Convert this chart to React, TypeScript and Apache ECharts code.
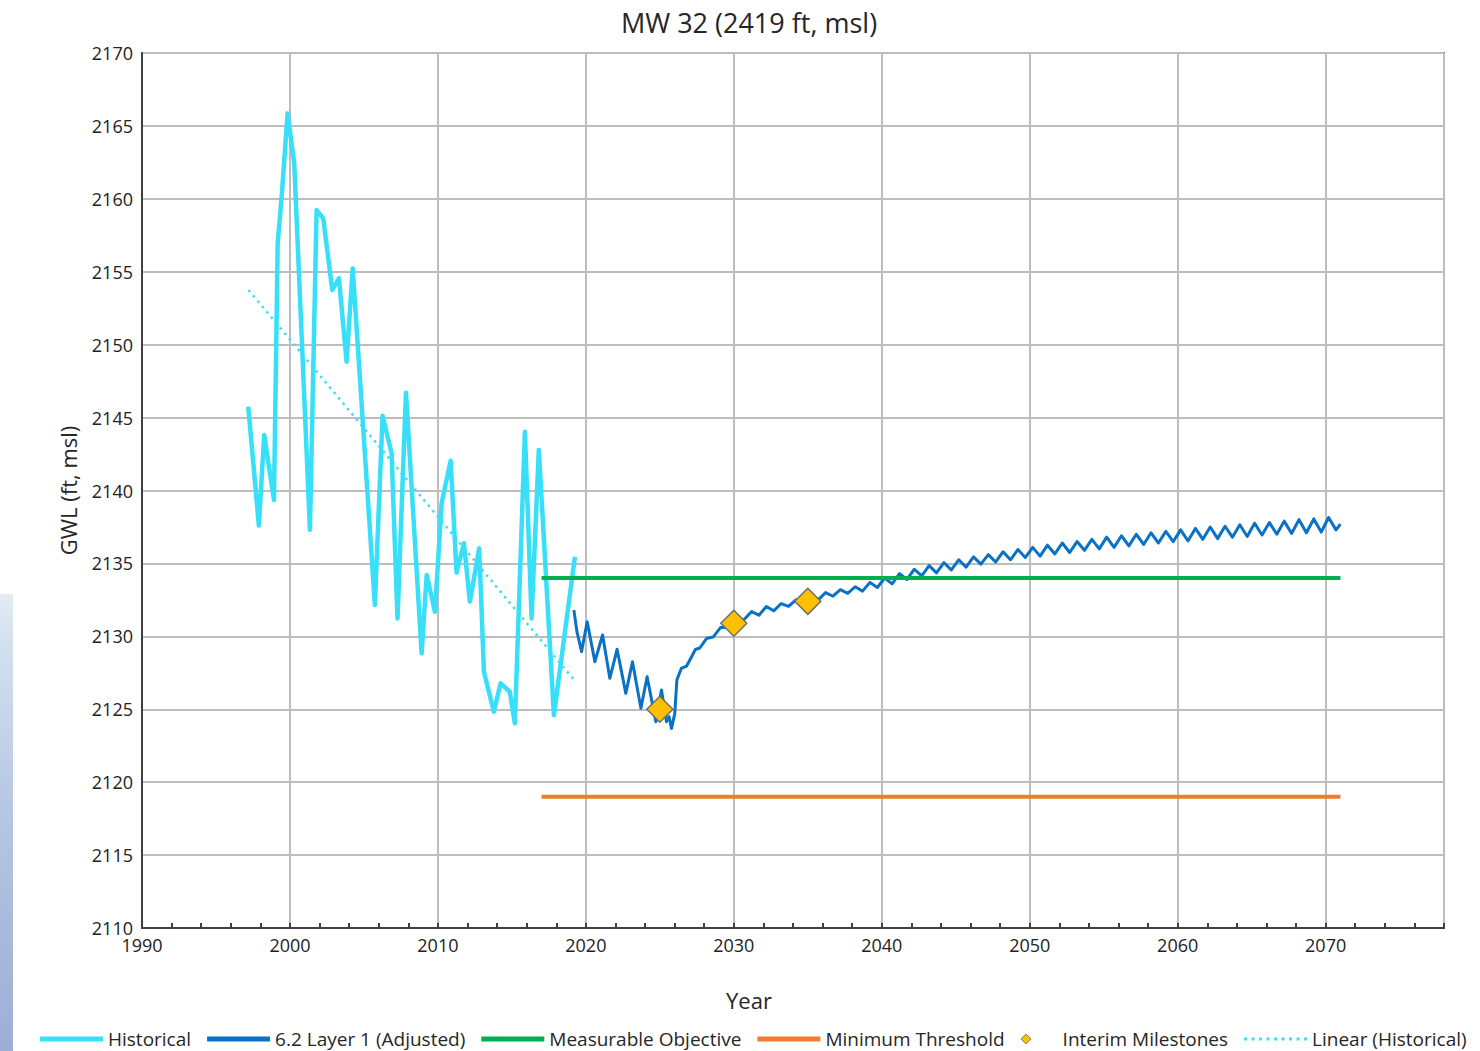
import React, { useEffect, useRef } from 'react';
import * as echarts from 'echarts';

const FONT = '"Open Sans", "Noto Sans", sans-serif';
const CYAN = '#38DFF8';
const BLUE = '#0A72C4';
const GREEN = '#00B050';
const ORANGE = '#EE7D31';
const GOLD = '#FFC000';

const histYears = [1997.18, 1997.9, 1998.26, 1998.92, 1999.17, 1999.44, 1999.84, 2000.29, 2001.35, 2001.8, 2002.25, 2002.86, 2003.31, 2003.83, 2004.24, 2005.74, 2006.26, 2006.87, 2007.27, 2007.84, 2008.9, 2009.24, 2009.8, 2010.25, 2010.86, 2011.26, 2011.76, 2012.16, 2012.79, 2013.11, 2013.78, 2014.24, 2014.86, 2015.2, 2015.88, 2016.33, 2016.82, 2017.84, 2019.26];
const histValues = [2145.75, 2137.6, 2143.8, 2139.35, 2156.95, 2160.15, 2165.86, 2162.43, 2137.3, 2159.23, 2158.66, 2153.75, 2154.55, 2148.83, 2155.23, 2132.15, 2145.13, 2142.55, 2131.23, 2146.71, 2128.83, 2134.2, 2131.69, 2139.12, 2142.04, 2134.36, 2136.38, 2132.38, 2136.03, 2127.57, 2124.83, 2126.78, 2126.2, 2124.03, 2144.03, 2131.23, 2142.78, 2124.6, 2135.46];

const adjYears = [2019.19, 2019.4, 2019.71, 2020.09, 2020.61, 2021.13, 2021.62, 2022.11, 2022.7, 2023.15, 2023.72, 2024.14, 2024.73, 2025.11, 2025.45, 2025.62, 2025.79, 2026.01, 2026.15, 2026.45, 2026.8, 2027.2, 2027.4, 2027.7, 2028.15, 2028.6, 2029.1, 2029.6, 2030.15, 2030.65,
  2031.2, 2031.7, 2032.2, 2032.7, 2033.2, 2033.7, 2034.2, 2034.7, 2035.2, 2035.7, 2036.2, 2036.7, 2037.2, 2037.7, 2038.2, 2038.7, 2039.2, 2039.7, 2040.2, 2040.7,
  2041.2, 2041.7, 2042.2, 2042.7, 2043.2, 2043.7, 2044.2, 2044.7, 2045.2, 2045.7, 2046.2, 2046.7, 2047.2, 2047.7, 2048.2, 2048.7, 2049.2, 2049.7, 2050.2, 2050.7,
  2051.2, 2051.7, 2052.2, 2052.7, 2053.2, 2053.7, 2054.2, 2054.7, 2055.2, 2055.7, 2056.2, 2056.7, 2057.2, 2057.7, 2058.2, 2058.7, 2059.2, 2059.7, 2060.2, 2060.7,
  2061.2, 2061.7, 2062.2, 2062.7, 2063.2, 2063.7, 2064.2, 2064.7, 2065.2, 2065.7, 2066.2, 2066.7, 2067.2, 2067.7, 2068.2, 2068.7, 2069.2, 2069.7, 2070.2, 2070.7, 2071.0];
const adjValues = [2131.8, 2130.3, 2128.95, 2131.0, 2128.26, 2130.09, 2127.12, 2129.11, 2126.09, 2128.26, 2125.07, 2127.23, 2124.15, 2126.32, 2124.15, 2124.5, 2123.69, 2124.72, 2127.0, 2127.8, 2127.95, 2128.7, 2129.1, 2129.2, 2129.85, 2129.95, 2130.6, 2130.6, 2131.2, 2131.1,
  2131.7, 2131.45, 2132.05, 2131.75, 2132.25, 2132.05, 2132.5, 2132.3, 2132.75, 2132.5, 2133.0, 2132.75, 2133.2, 2132.95, 2133.4, 2133.1, 2133.7, 2133.35, 2134.0, 2133.6,
  2134.3, 2133.9, 2134.6, 2134.15, 2134.85, 2134.35, 2135.05, 2134.55, 2135.25, 2134.75, 2135.45, 2134.95, 2135.6, 2135.1, 2135.8, 2135.25, 2135.95, 2135.4, 2136.1, 2135.5,
  2136.25, 2135.65, 2136.4, 2135.75, 2136.5, 2135.9, 2136.65, 2136.0, 2136.8, 2136.1, 2136.9, 2136.2, 2137.0, 2136.3, 2137.1, 2136.4, 2137.2, 2136.5, 2137.3, 2136.55,
  2137.4, 2136.65, 2137.5, 2136.7, 2137.55, 2136.8, 2137.65, 2136.85, 2137.75, 2136.95, 2137.8, 2137.0, 2137.9, 2137.05, 2138.0, 2137.1, 2138.05, 2137.15, 2138.15, 2137.3, 2137.7];

const levelYears = [2017, 2071];
const objectiveValue = 2134;
const thresholdValue = 2119;
const milestoneYears = [2025, 2030, 2035];
const milestoneValues = [2125.0, 2130.9, 2132.4];
const trendYears = [1997.2, 2019.3];
const trendValues = [2153.75, 2126.9];

const xTickLabels = [1990, 2000, 2010, 2020, 2030, 2040, 2050, 2060, 2070];

const pairs = (xs: number[], ys: number[]) => xs.map((x, i) => [x, ys[i]]);

const LINE_ICON = 'path://M0,0H63V5H0Z';
const DIAMOND_ICON = 'path://M5,0L10,5L5,10L0,5Z';
const DOT_ICON = 'path://M0,0h3v3h-3zM7.5,0h3v3h-3zM15,0h3v3h-3zM22.5,0h3v3h-3zM30,0h3v3h-3zM37.5,0h3v3h-3zM45,0h3v3h-3zM52.5,0h3v3h-3zM60,0h3v3h-3z';

export default function App() {
  const ref = useRef<HTMLDivElement>(null);
  useEffect(() => {
    document.body.style.margin = '0';
    const chart = echarts.init(ref.current!, null, { renderer: 'svg' });
    const option: any = {
      animation: false,
      backgroundColor: '#ffffff',
      textStyle: { fontFamily: FONT },
      grid: {
        left: 142, top: 53, right: 36, bottom: 123,
        show: true, borderColor: '#555555', borderWidth: 2,
        containLabel: false, outerBoundsMode: 'none',
      },
      xAxis: [
        {
          type: 'value', min: 1990, max: 2078, interval: 10,
          axisLine: { show: true, onZero: false, lineStyle: { color: '#404040', width: 2 } },
          axisTick: { show: false },
          axisLabel: {
            fontSize: 18, color: '#222222', margin: 8, fontFamily: FONT, showMaxLabel: false,
            formatter: (v: number) => (xTickLabels.indexOf(v) >= 0 ? String(v) : ''),
          },
          splitLine: { show: true, lineStyle: { color: '#bdbdbd', width: 2 } },
        },
        {
          type: 'value', min: 1990, max: 2078, interval: 2, position: 'bottom', gridIndex: 0,
          axisLine: { show: false, onZero: false },
          axisLabel: { show: false },
          splitLine: { show: false },
          axisTick: { show: true, inside: true, length: 5, lineStyle: { color: '#404040', width: 2 } },
        },
      ],
      yAxis: {
        type: 'value', min: 2110, max: 2170, interval: 5,
        name: 'GWL (ft, msl)', nameLocation: 'middle', nameGap: 63, nameRotate: 90,
        nameTextStyle: { fontSize: 22, color: '#262626', fontFamily: FONT },
        axisLine: { show: true, lineStyle: { color: '#404040', width: 2 } },
        axisTick: { show: false },
        axisLabel: { fontSize: 18, color: '#222222', margin: 9, fontFamily: FONT, formatter: (v: number) => String(v) },
        splitLine: { show: true, lineStyle: { color: '#bdbdbd', width: 2 } },
      },
      legend: {
        left: 35, top: 1024, itemWidth: 63, itemHeight: 10, itemGap: 16,
        textStyle: { fontSize: 19, lineHeight: 20, color: '#262626', fontFamily: FONT },
        selectedMode: false,
        data: [
          { name: 'Historical', icon: LINE_ICON, itemStyle: { color: CYAN, borderWidth: 0 } },
          { name: '6.2 Layer 1 (Adjusted)', icon: LINE_ICON, itemStyle: { color: BLUE, borderWidth: 0 } },
          { name: 'Measurable Objective', icon: LINE_ICON, itemStyle: { color: GREEN, borderWidth: 0 } },
          { name: 'Minimum Threshold', icon: LINE_ICON, itemStyle: { color: ORANGE, borderWidth: 0 } },
          { name: 'Interim Milestones', icon: DIAMOND_ICON, itemStyle: { color: GOLD, borderColor: '#7f7f7f', borderWidth: 1 } },
          { name: 'Linear (Historical)', icon: DOT_ICON, itemStyle: { color: CYAN, borderWidth: 0 } },
        ],
      },
      graphic: [
        {
          type: 'rect', shape: { x: 0, y: 594, width: 13, height: 457 }, silent: true,
          style: {
            fill: new echarts.graphic.LinearGradient(0, 0, 0, 1, [
              { offset: 0, color: '#e3ecf5' },
              { offset: 0.12, color: '#d2dfee' },
              { offset: 0.5, color: '#b4c5e3' },
              { offset: 1, color: '#9eadd5' },
            ]),
          },
        },
        {
          type: 'text', x: 749, y: 22, silent: true,
          style: {
            text: 'MW 32 (2419 ft, msl)', fontSize: 27, fontFamily: FONT, fill: '#262626',
            align: 'center', verticalAlign: 'middle', textAlign: 'center', textVerticalAlign: 'middle',
          },
        },
        {
          type: 'text', x: 749, y: 1000, silent: true,
          style: {
            text: 'Year', fontSize: 22, fontFamily: FONT, fill: '#262626',
            align: 'center', verticalAlign: 'middle', textAlign: 'center', textVerticalAlign: 'middle',
          },
        },
      ],
      series: [
        {
          name: 'Linear (Historical)', type: 'line', xAxisIndex: 0, data: pairs(trendYears, trendValues),
          symbol: 'none', color: CYAN, lineStyle: { color: CYAN, width: 2.5, type: [2.5, 4.5] }, z: 1, silent: true,
        },
        {
          name: 'Historical', type: 'line', xAxisIndex: 0, data: pairs(histYears, histValues),
          symbol: 'none', color: CYAN, lineStyle: { color: CYAN, width: 4.5, join: 'round' }, z: 2, silent: true,
        },
        {
          name: '6.2 Layer 1 (Adjusted)', type: 'line', xAxisIndex: 0, data: pairs(adjYears, adjValues),
          symbol: 'none', color: BLUE, lineStyle: { color: BLUE, width: 3, join: 'round' }, z: 3, silent: true,
        },
        {
          name: 'Measurable Objective', type: 'line', xAxisIndex: 0,
          data: pairs(levelYears, levelYears.map(() => objectiveValue)),
          symbol: 'none', color: GREEN, lineStyle: { color: GREEN, width: 4 }, z: 4, silent: true,
        },
        {
          name: 'Minimum Threshold', type: 'line', xAxisIndex: 0,
          data: pairs(levelYears, levelYears.map(() => thresholdValue)),
          symbol: 'none', color: ORANGE, lineStyle: { color: ORANGE, width: 4 }, z: 4, silent: true,
        },
        {
          name: 'Interim Milestones', type: 'scatter', xAxisIndex: 0, data: pairs(milestoneYears, milestoneValues),
          symbol: 'diamond', symbolSize: 26, color: GOLD,
          itemStyle: { color: GOLD, borderColor: '#6d6d6d', borderWidth: 1.5, opacity: 1 }, z: 5, silent: true,
        },
      ],
    };
    chart.setOption(option);
    return () => chart.dispose();
  }, []);
  return <div ref={ref} style={{ width: 1480, height: 1051 }} />;
}
